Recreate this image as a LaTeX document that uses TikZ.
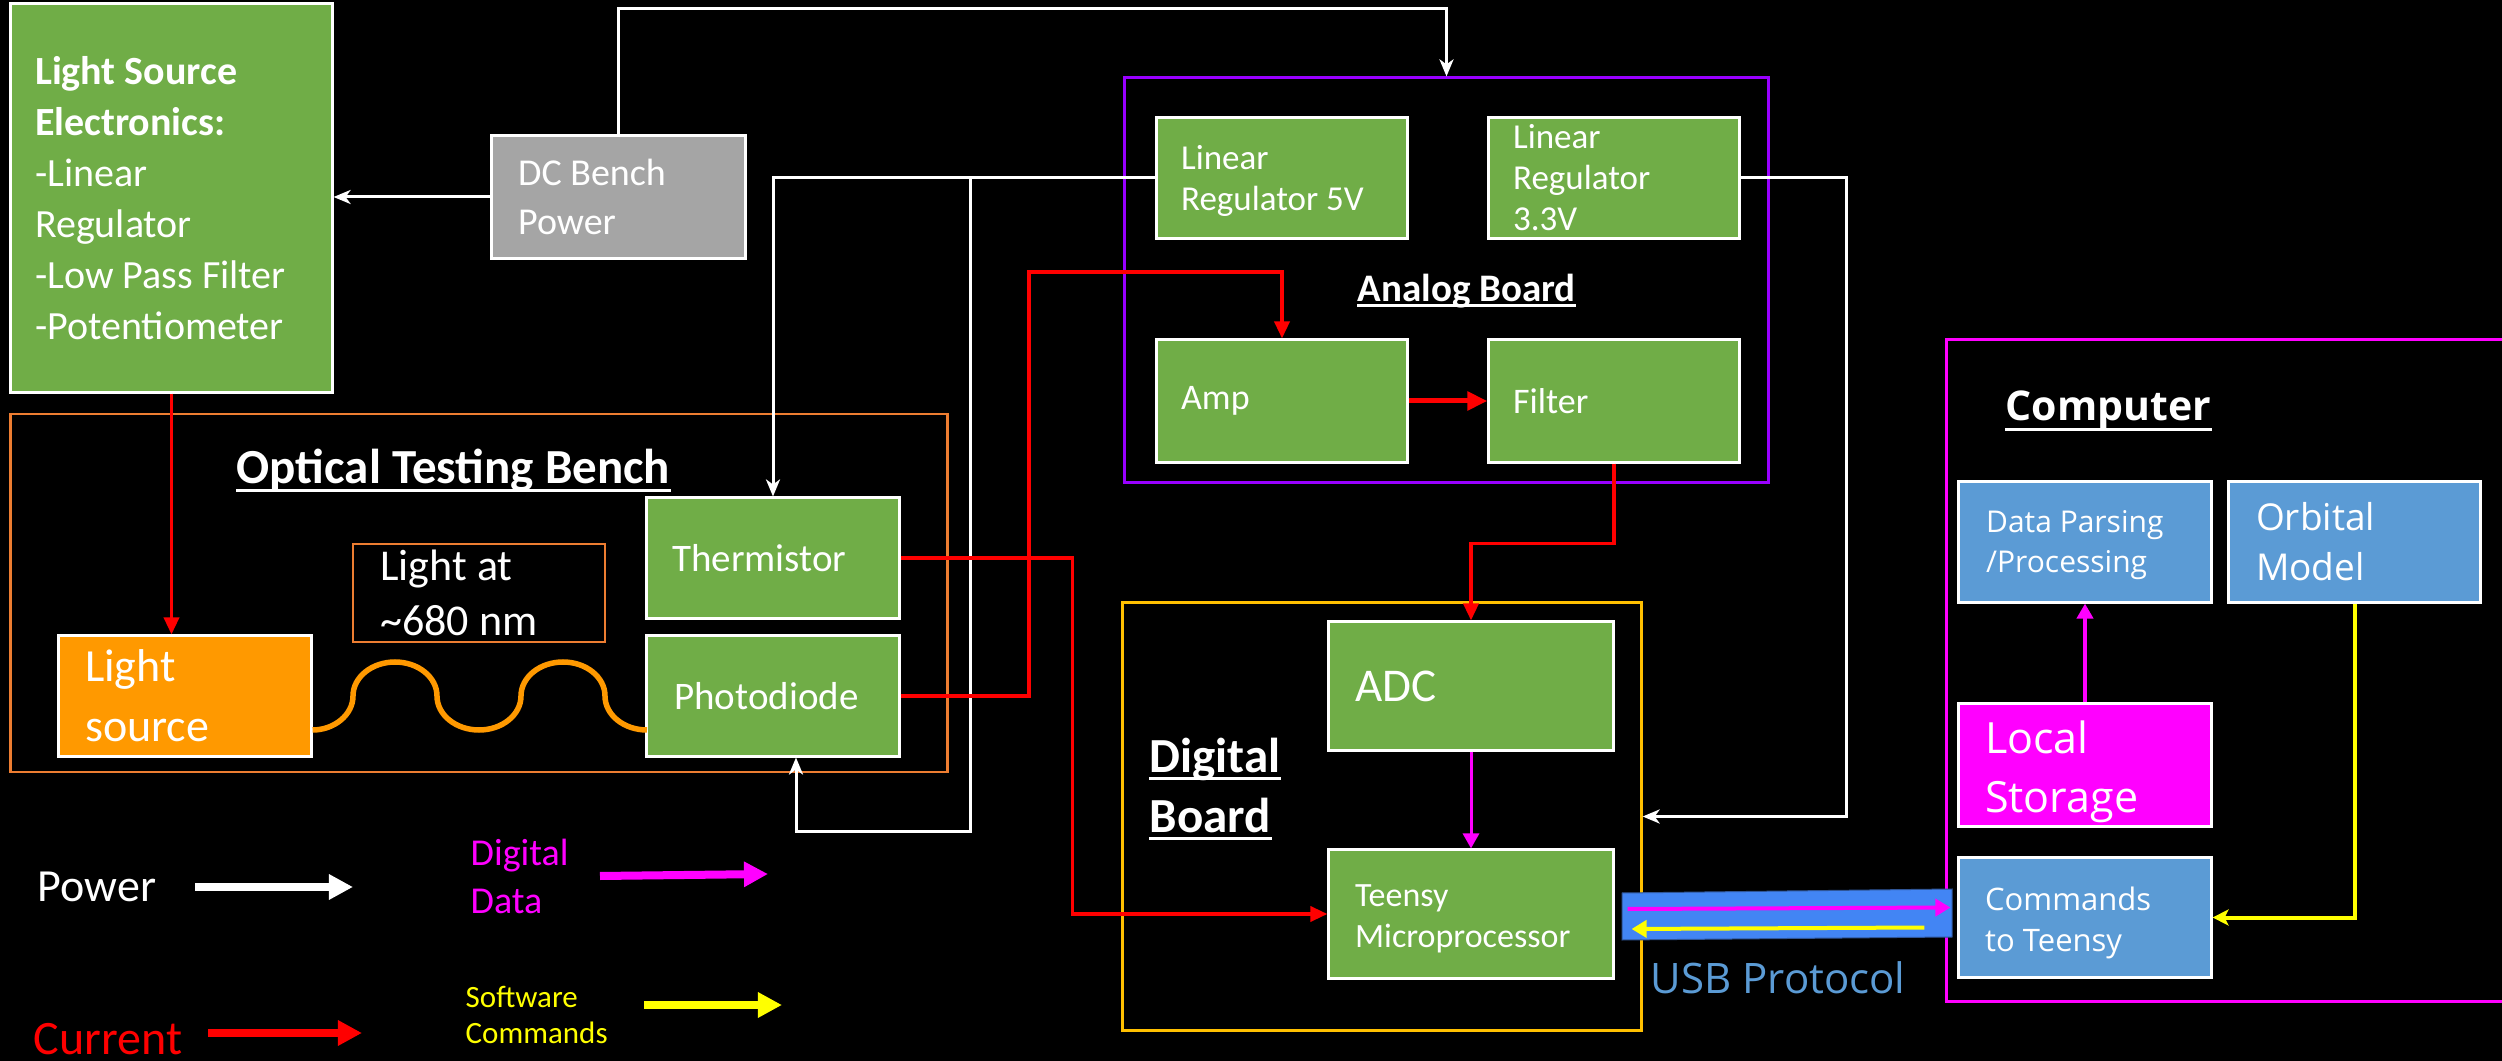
\documentclass[tikz,border=0pt]{standalone}
\usepackage{fontspec}
\setmainfont{Carlito}
\newfontfamily\osans{Open Sans}
\usetikzlibrary{arrows.meta,calc}
\newdimen\pxu \pxu=0.01cm
\newcommand\fs[2]{\fontsize{#1\pxu}{#2\pxu}\selectfont}
\definecolor{cgreen}{HTML}{70AD47}
\definecolor{cgray}{HTML}{A5A5A5}
\definecolor{corange}{HTML}{FF9900}
\definecolor{cbench}{HTML}{ED7D31}
\definecolor{cpurple}{HTML}{9900FF}
\definecolor{cgold}{HTML}{FFC000}
\definecolor{cmag}{HTML}{FF00FF}
\definecolor{cblue}{HTML}{5B9BD5}
\definecolor{cusb}{HTML}{4285F4}
\definecolor{cusbd}{HTML}{2F5597}
\definecolor{cred}{HTML}{FF0000}
\definecolor{cyel}{HTML}{FFFF00}
\begin{document}
\begin{tikzpicture}[x=0.01cm,y=-0.01cm,
  box/.style={draw=white, line width=0.03cm, inner sep=0, rectangle},
  gbox/.style={box, fill=cgreen},
  bbox/.style={box, fill=cblue},
  cont/.style={rectangle, inner sep=0, line width=0.03cm},
  txt/.style={text=white, inner sep=0, align=left, anchor=west},
  lbl/.style={text=white, inner sep=0, anchor=base west},
  pw/.style={draw=white, line width=0.03cm, -{Stealth[length=0.17cm,width=0.14cm,inset=0.05cm]}},
  cur/.style={draw=cred, line width=0.035cm, -{Triangle[length=0.17cm,width=0.15cm]}},
  dig/.style={draw=cmag, line width=0.03cm, -{Triangle[length=0.15cm,width=0.16cm]}},
  sw/.style={draw=cyel, line width=0.04cm, -{Stealth[length=0.16cm,width=0.16cm,inset=0.04cm]}},
  legarrow/.style={line width=0.08cm, -{Triangle[length=0.24cm,width=0.24cm]}},
  uline/.style={draw=white, line width=0.03cm}
]
\fill[black] (0,0) rectangle (2502,1061);
\useasboundingbox (0,0) rectangle (2502,1061);
\clip (0,0) rectangle (2502,1061);

% containers
\node[cont, draw=cbench, line width=0.025cm, minimum width=9.36cm, minimum height=3.58cm] (bench) at (479,593) {};
\node[cont, draw=cpurple, minimum width=6.43cm, minimum height=4.04cm] (analog) at (1446.5,280) {};
\node[cont, draw=cgold, minimum width=5.18cm, minimum height=4.27cm] (digital) at (1382,816.5) {};
\node[cont, draw=cmag, minimum width=5.83cm, minimum height=6.61cm] (comp) at (2238.5,670.5) {};

% container labels
\node[lbl, font=\fs{49}{59}\bfseries] (otb) at (236,484) {Optical Testing Bench};
\draw[uline] ([yshift=-0.06cm]otb.base west) -- ([yshift=-0.06cm]otb.base east);
\node[lbl, font=\fs{39}{47}\bfseries] (anb) at (1357,302) {Analog Board};
\draw[uline] ([yshift=-0.04cm]anb.base west) -- ([yshift=-0.04cm]anb.base east);
\node[lbl, font=\fs{49}{59}\bfseries] (dgb1) at (1149,772) {Digital};
\draw[uline] ([yshift=-0.06cm]dgb1.base west) -- ([yshift=-0.06cm]dgb1.base east);
\node[lbl, font=\fs{49}{59}\bfseries] (dgb2) at (1149,832) {Board};
\draw[uline] ([yshift=-0.06cm]dgb2.base west) -- ([yshift=-0.06cm]dgb2.base east);
\node[lbl, font=\osans\fs{41}{50}\bfseries] (cpl) at (2005,421) {Computer};
\draw[uline] ([yshift=-0.08cm]cpl.base west) -- ([yshift=-0.08cm]cpl.base east);

% boxes
\node[gbox, minimum width=3.21cm, minimum height=3.88cm] (lse) at (171.5,198) {};
\node[txt, font=\fs{40}{51}] (lset) at ([xshift=0.25cm]lse.west) {\textbf{Light Source}\\\textbf{Electronics:}\\-Linear\\Regulator\\-Low Pass Filter\\-Potentiometer};
\node[box, fill=cgray, minimum width=2.53cm, minimum height=1.22cm] (dc) at (618.5,197) {};
\node[txt, font=\fs{38}{49}] (dct) at ([xshift=0.27cm]dc.west) {DC Bench\\Power};
\node[gbox, minimum width=2.5cm, minimum height=1.2cm] (lr5) at (1282,178) {};
\node[txt, font=\fs{35}{41}] (lr5t) at ([xshift=0.25cm,yshift=-0.03cm]lr5.west) {Linear\\Regulator 5V};
\node[gbox, minimum width=2.5cm, minimum height=1.2cm] (lr33) at (1614,178) {};
\node[txt, font=\fs{35}{41}] (lr33t) at ([xshift=0.25cm]lr33.west) {Linear\\Regulator\\3.3V};
\node[gbox, minimum width=2.5cm, minimum height=1.22cm] (amp) at (1282,401) {};
\node[txt, font=\fs{36}{44}] (ampt) at ([xshift=0.25cm]amp.west) {Amp};
\node[gbox, minimum width=2.5cm, minimum height=1.22cm] (filter) at (1614,401) {};
\node[txt, font=\fs{36}{44}] (filtert) at ([xshift=0.25cm]filter.west) {Filter};
\node[box, fill=corange, minimum width=2.52cm, minimum height=1.2cm] (lsrc) at (185,696) {};
\node[txt, font=\fs{46}{60}] (lsrct) at ([xshift=0.27cm]lsrc.west) {Light\\source};
\node[rectangle, inner sep=0, draw=cbench, line width=0.025cm, minimum width=2.52cm, minimum height=0.98cm] (lat) at (479,593) {};
\node[txt, font=\fs{44}{55}] (latt) at ([xshift=0.28cm]lat.west) {Light at\\\textasciitilde680 nm};
\node[gbox, minimum width=2.52cm, minimum height=1.2cm] (therm) at (773,558) {};
\node[txt, font=\fs{39}{47}] (thermt) at ([xshift=0.26cm]therm.west) {Thermistor};
\node[gbox, minimum width=2.52cm, minimum height=1.2cm] (photo) at (773,696) {};
\node[txt, font=\fs{39}{47}] (photot) at ([xshift=0.28cm]photo.west) {Photodiode};
\node[gbox, minimum width=2.84cm, minimum height=1.28cm] (adc) at (1471,686) {};
\node[txt, font=\fs{47}{56}] (adct) at ([xshift=0.27cm]adc.west) {ADC};
\node[gbox, minimum width=2.84cm, minimum height=1.28cm] (teensy) at (1471,914) {};
\node[txt, font=\fs{34}{41}] (teensyt) at ([xshift=0.27cm,yshift=-0.05cm]teensy.west) {Teensy\\Microprocessor};
\node[bbox, minimum width=2.52cm, minimum height=1.2cm] (dp) at (2085,542) {};
\node[txt, font=\osans\fs{30}{40}] (dpt) at ([xshift=0.28cm,yshift=-0.03cm]dp.west) {Data Parsing\\/Processing};
\node[bbox, minimum width=2.51cm, minimum height=1.2cm] (orb) at (2354.5,542) {};
\node[txt, font=\osans\fs{37}{50}] (orbt) at ([xshift=0.28cm]orb.west) {Orbital\\Model};
\node[box, fill=cmag, minimum width=2.52cm, minimum height=1.22cm] (ls) at (2085,765) {};
\node[txt, font=\osans\fs{43}{59}] (lst) at ([xshift=0.27cm,yshift=-0.07cm]ls.west) {Local\\Storage};
\node[bbox, minimum width=2.52cm, minimum height=1.19cm] (cmd) at (2085,917.5) {};
\node[txt, font=\osans\fs{31}{41}] (cmdt) at ([xshift=0.27cm,yshift=-0.05cm]cmd.west) {Commands\\to Teensy};

% light wave (chain of half-ellipses)
\coordinate (w0) at ($(lsrc.east)+(0,34)$);
\draw[corange, line width=0.055cm] (w0)
  .. controls (334.2,730) and (353,714.8) .. (353,696)
  .. controls (353,677.2) and (371.8,662) .. (395,662)
  .. controls (418.2,662) and (437,677.2) .. (437,696)
  .. controls (437,714.8) and (455.8,730) .. (479,730)
  .. controls (502.2,730) and (521,714.8) .. (521,696)
  .. controls (521,677.2) and (539.8,662) .. (563,662)
  .. controls (586.2,662) and (605,677.2) .. (605,696)
  .. controls (605,714.8) and (623.8,730) .. (647,730);

% power connectors
\draw[pw] (dc.west) -- (dc.west -| lse.east);
\coordinate (ptop) at ($(analog.north)+(0,-68)$);
\draw[pw] (dc.north) |- (ptop) -- (analog.north);
\draw[pw] (lr5.west) -| (therm.north);
\coordinate (j1) at ($(lr5.west)+(-185,0)$);
\coordinate (pb) at ($(photo.south)+(23,74)$);
\draw[pw] (j1) |- (pb) -- ($(photo.south)+(23,0)$);
\draw[pw] (lr33.east) -- ($(lr33.east)+(106,0)$) |- (digital.east);

% current connectors
\draw[cur] (lse.south) -- (lse.south |- lsrc.north);
\coordinate (r1) at (1029,272);
\draw[cur] (photo.east) -| (r1) -| (amp.north);
\draw[draw=cred, line width=0.05cm, -{Triangle[length=0.2cm,width=0.18cm]}] (amp.east) -- (filter.west);
\draw[cur] (filter.south) -- ++(0,80) -| (adc.north);
\draw[cur] (therm.east) -| ($(teensy.west)+(-255,0)$) -- (teensy.west);

% digital data / software
\draw[dig] (adc.south) -- (teensy.north);
\draw[dig, line width=0.04cm] (ls.north) -- (dp.south);
\draw[sw] (orb.south) |- (cmd.east);

% USB
\filldraw[fill=cusb, draw=cusbd, line width=0.01cm] (1622,893) -- (1952,889) -- (1952,937) -- (1622,940) -- cycle;
\coordinate (ua) at ($(teensy.east)+(13,-5)$);
\coordinate (ub) at ($(cmd.west)+(-7,-10)$);
\coordinate (uc) at ($(cmd.west)+(-33,10)$);
\coordinate (ud) at ($(teensy.east)+(17,15)$);
\draw[draw=cmag, line width=0.04cm, -{Triangle[length=0.15cm,width=0.17cm]}] (ua) -- (ub);
\draw[draw=cyel, line width=0.04cm, -{Triangle[length=0.15cm,width=0.17cm]}] (uc) -- (ud);
\node[lbl, text=cblue, font=\osans\fs{42}{50}] (usb) at (1650,993) {USB Protocol};

% legend
\node[lbl, font=\fs{46}{56}] (lgpow) at (37,901) {Power};
\coordinate (lgpa) at (195,887); \coordinate (lgpb) at (353,887);
\draw[legarrow, white] (lgpa) -- (lgpb);
\node[lbl, text=cred, font=\fs{48}{58}] (lgcur) at (33,1054) {Current};
\coordinate (lgca) at (208,1033); \coordinate (lgcb) at (362,1033);
\draw[legarrow, cred] (lgca) -- (lgcb);
\node[lbl, text=cmag, font=\fs{38}{48}, align=left] (lgdig) at (470,913) {Digital\\Data};
\coordinate (lgda) at (600,876); \coordinate (lgdb) at (768,874);
\draw[legarrow, cmag] (lgda) -- (lgdb);
\node[lbl, text=cyel, font=\fs{31}{36}, align=left] (lgsw) at (465,1043) {Software\\Commands};
\coordinate (lgsa) at (644,1005); \coordinate (lgsb) at (782,1005);
\draw[legarrow, cyel] (lgsa) -- (lgsb);
\end{tikzpicture}
\end{document}
